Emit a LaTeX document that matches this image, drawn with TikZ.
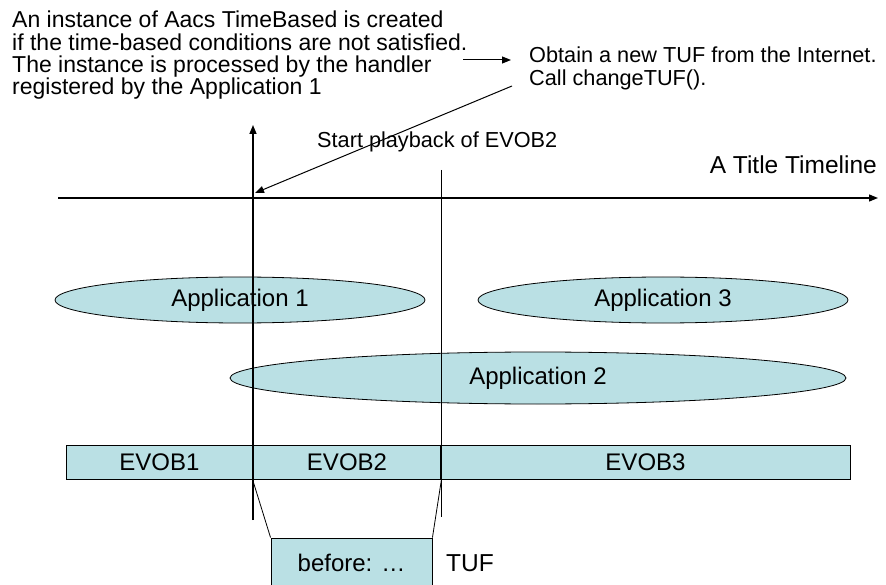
\documentclass[tikz,border=0pt]{standalone}
\usepackage{fontspec}
\setmainfont{Liberation Sans}
\usetikzlibrary{arrows.meta,shapes.geometric}
\definecolor{appfill}{RGB}{186,224,228}
\begin{document}
\begin{tikzpicture}[x=1pt,y=-1pt,
  note/.style={font=\fontsize{23}{22.3}\selectfont, inner sep=0pt, align=left},
  note2/.style={font=\fontsize{21.7}{23}\selectfont, inner sep=0pt, align=left},
  lbl/.style={font=\fontsize{24.5}{26}\selectfont, inner sep=0pt},
  app/.style={ellipse, draw, fill=appfill, line width=0.8pt, inner sep=0pt, font=\fontsize{24}{26}\selectfont},
  bar/.style={rectangle, draw, fill=appfill, line width=0.9pt, inner sep=0pt, minimum height=34pt, font=\fontsize{24}{26}\selectfont},
  arr/.style={-{Triangle[length=9pt,width=7pt]}, line width=1pt}]
\useasboundingbox (0,0) rectangle (886,585);
\clip (0,0) rectangle (886,585);
\fill[white] (0,0) rectangle (886,585);

% annotations
\node[note, anchor=north west] (inst) at (12,11) {An instance of Aacs TimeBased is created\\if the time-based conditions are not satisfied.\\The instance is processed by the handler\\registered by the Application 1};
\node[note2, anchor=north west] (obtain) at (529,46.5) {Obtain a new TUF from the Internet.\\Call changeTUF().};
\coordinate (h0) at (463,60);
\coordinate (h1) at (511,60);
\draw[arr] (h0) -- (h1);

\node[note2, anchor=west] (start) at (317,142) {Start playback of EVOB2};
\node[lbl, anchor=east] (title) at (877,165) {A Title Timeline};

% timeline
\coordinate (tl0) at (58,198);
\coordinate (tl1) at (878,198);
\draw[arr, line width=1.3pt] (tl0) -- (tl1);

% applications
\node[app, minimum width=370pt, minimum height=46pt] (app1) at (240,300) {Application 1};
\node[app, minimum width=370pt, minimum height=46pt] (app3) at (663,300) {Application 3};
\node[app, minimum width=616pt, minimum height=52pt] (app2) at (538,378) {Application 2};

% EVOB bar
\node[bar, minimum width=187pt] (evob1) at (159.5,462) {EVOB1};
\node[bar, minimum width=188pt] (evob2) at (347,462) {EVOB2};
\node[bar, minimum width=409pt] (evob3) at (645.5,462) {EVOB3};

% TUF box
\node[bar, minimum width=161pt, minimum height=50pt] (tufbox) at (351.5,563) {before: …};
\node[lbl, anchor=west] (tuf) at (446,563) {TUF};
\draw[line width=0.8pt] (evob2.south west) -- (tufbox.north west);
\draw[line width=0.8pt] (evob2.south east) -- (tufbox.north east);

% vertical lines
\coordinate (v1b) at (253,520);
\coordinate (v1t) at (253,125);
\draw[arr, line width=1.5pt] (v1b) -- (v1t);
\coordinate (v2t) at (441,170);
\coordinate (v2b) at (441,517);
\draw[line width=1pt] (v2t) -- (v2b);
\draw[line width=1.8pt] (evob3.north west) -- (evob3.south west);

% diagonal arrow
\coordinate (d0) at (512,86);
\coordinate (d1) at (255,193);
\draw[arr] (d0) -- (d1);
\end{tikzpicture}
\end{document}
